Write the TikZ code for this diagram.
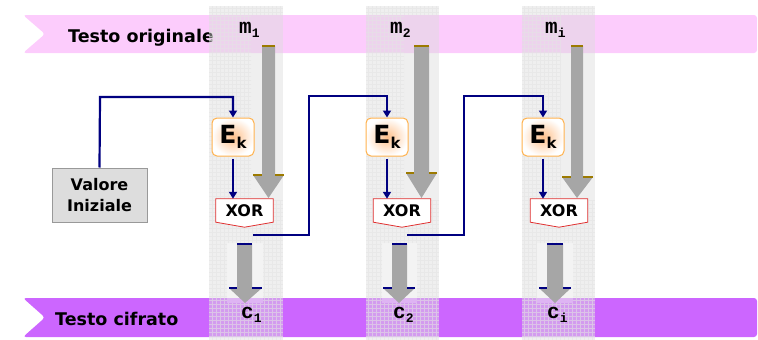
\documentclass[tikz,border=0pt]{standalone}
\usepackage{fontspec}
\setmainfont{DejaVu Sans}
\newfontfamily\monof{Liberation Mono}
\usetikzlibrary{arrows.meta,calc}
\definecolor{pinkband}{HTML}{FCCCFC}
\definecolor{purpband}{HTML}{CC66FF}
\definecolor{navyc}{HTML}{000080}
\definecolor{arrgray}{HTML}{A6A6A6}
\definecolor{goldc}{HTML}{9C7A00}
\definecolor{xorred}{HTML}{E03030}
\definecolor{ekborder}{HTML}{FFB24D}
\definecolor{ekin}{HTML}{FFC08A}
\definecolor{vifill}{HTML}{DDDDDD}
\definecolor{viborder}{HTML}{999999}
\definecolor{colfill}{HTML}{DCDCDC}
\definecolor{gridc}{HTML}{E4E4E4}
\newcommand\BigArr[6]{%
  \fill[arrgray] (#1,46) -- (#2,46) -- (#2,#5) -- (#4,#5) -- (#6,198) -- (#3,#5) -- (#1,#5) -- cycle;
  \draw[goldline] (#1,46) -- (#2,46);
  \draw[goldmark] (#3,#5) -- (#1,#5) (#2,#5) -- (#4,#5);}
\newcommand\SmallArr[5]{%
  \fill[arrgray] (#1,244) -- (#2,244) -- (#2,288) -- (#4,288) -- (#5,303) -- (#3,288) -- (#1,288) -- cycle;
  \draw[navymark] (#1,244) -- (#2,244);
  \draw[navymark] (#3,288) -- (#1,288) (#2,288) -- (#4,288);}
\newcommand\MLabel[2]{{\monof\bfseries\fontsize{21}{21}\selectfont #1}\raisebox{-4pt}{\monof\bfseries\fontsize{13}{13}\selectfont #2}}
\begin{document}
\begin{tikzpicture}[x=1pt,y=-1pt,
  bandtext/.style={font=\bfseries\fontsize{17.5}{17.5}\selectfont, anchor=base west, inner sep=0pt},
  goldline/.style={goldc, line width=2pt},
  goldmark/.style={goldc, line width=2.5pt},
  navymark/.style={navyc, line width=2pt},
  feed/.style={navyc, line width=2.2pt, -{Triangle[width=8pt,length=7pt]}},
  ekbox/.style={draw=ekborder, line width=1pt, rounded corners=5pt, inner color=ekin, outer color=white,
     minimum width=42pt, minimum height=38pt, inner sep=0pt},
  xortext/.style={font=\bfseries\fontsize{16}{16}\selectfont, minimum width=57pt, minimum height=23pt, inner sep=0pt},
  xorline/.style={draw=xorred, line width=0.8pt, fill=white},
  vibox/.style={draw=viborder, line width=1pt, fill=vifill, minimum width=95pt, minimum height=54pt,
     align=center, font=\bfseries\fontsize{16}{21}\selectfont, inner sep=0pt},
  lab/.style={anchor=base west, inner sep=0pt}]
\useasboundingbox (0,0) rectangle (758,340);
% bands
\fill[pinkband, rounded corners=3pt] (23,15) -- (757,15) -- (757,53) -- (23,53) -- (45,34) -- cycle;
\fill[purpband, rounded corners=3pt] (23,298) -- (757,298) -- (757,337) -- (23,337) -- (45,317.5) -- cycle;
\node[bandtext] (t_orig) at (68,42) {Testo originale};
\node[bandtext] (t_cif) at (55,325) {Testo cifrato};
% columns
\foreach \a/\b/\pa/\sa/\sb in {209/283/251/227/263, 366/439/404/382/417, 522/595/561/537/573}{
  \fill[colfill, fill opacity=0.45] (\a,6) rectangle (\b,340);
  \begin{scope}[even odd rule]
    \clip (\a,6) rectangle (\b,340) (\pa,15) rectangle (\b,200) (\sa,243) rectangle (\sb,303);
    \draw[gridc, line width=0.4pt, opacity=0.55, step=4pt] (\a,6) grid (\b,340);
  \end{scope}
  \fill[white, fill opacity=0.25] (\sa,243) rectangle (\sb,303);
}
% big arrows
\BigArr{262}{275}{253}{284}{175}{268.5}
\BigArr{414}{429}{406}{437}{173}{421.5}
\BigArr{571}{583}{562}{593}{177}{577}
% small arrows
\SmallArr{237}{252}{229}{262}{245}
\SmallArr{392}{407}{383}{415}{399}
\SmallArr{547}{563}{539}{571}{555}
% labels m, c
\node[lab] (m1) at (239,33) {\MLabel{m}{1}};
\node[lab] (m2) at (390,33) {\MLabel{m}{2}};
\node[lab] (mi) at (545,33) {\MLabel{m}{i}};
\node[lab] (c1) at (241,318) {\MLabel{c}{1}};
\node[lab] (c2) at (393,318) {\MLabel{c}{2}};
\node[lab] (ci) at (547,318) {\MLabel{c}{i}};
% Ek boxes
\foreach \n/\x in {1/233, 2/387, 3/543}{
  \node[ekbox] (E\n) at (\x,137) {{\fontsize{25}{25}\selectfont\bfseries E}\raisebox{-5pt}{\fontsize{15}{15}\selectfont\bfseries k}};
}
% XOR boxes
\foreach \n/\x in {1/244.5, 2/402, 3/559}{
  \node[xortext] (X\n) at (\x,210.5) {};
  \draw[xorline] (X\n.north west) -- (X\n.north east) -- (X\n.south east) -- ($(X\n.south)+(0,5)$) -- (X\n.south west) -- cycle;
  \node[xortext] at (\x,211) {XOR};
}
% Valore Iniziale
\node[vibox] (vi) at (99.5,195) {Valore\\Iniziale};
% connectors
\coordinate (t1) at (100,97);
\coordinate (t2) at (309,96);
\coordinate (t3) at (464,96);
\coordinate (o1) at (253,235);
\coordinate (o2) at (407,235);
\draw[feed] (vi.north) -- (t1) -| (E1.north);
\draw[feed] (o1) -| (t2) -| (E2.north);
\draw[feed] (o2) -| (t3) -| (E3.north);
\foreach \n in {1,2,3}{
  \draw[feed, shorten <=2pt] (E\n.south) -- (E\n.south |- X\n.north);
}
\end{tikzpicture}
\end{document}
